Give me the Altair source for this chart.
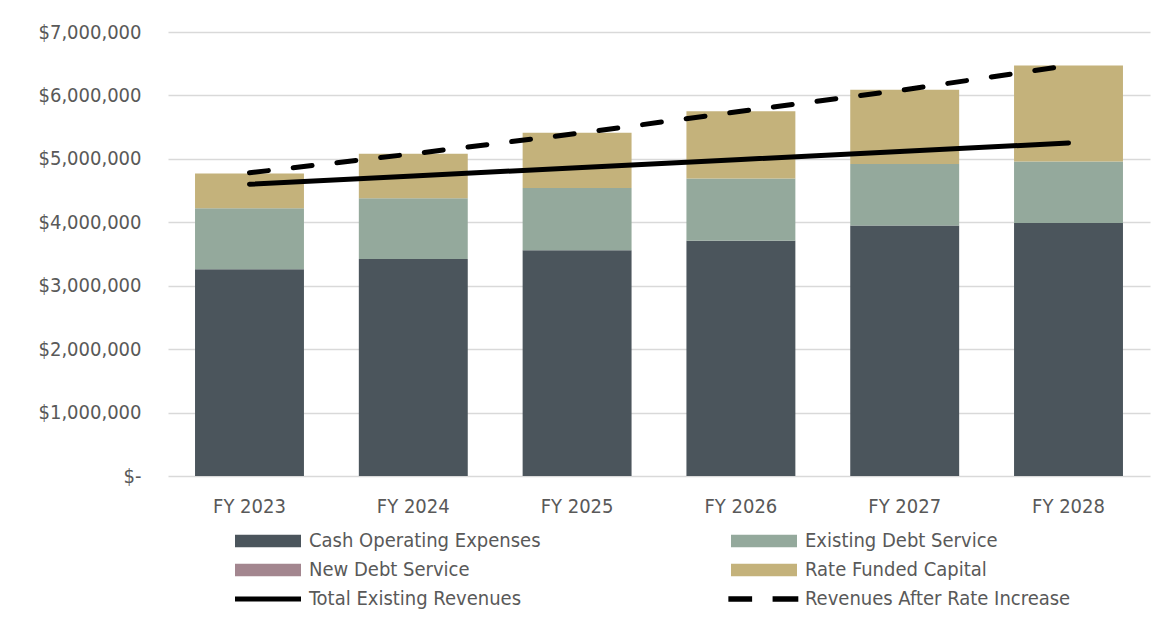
import altair as alt
import pandas as pd

# ---- data ----
years = ["FY 2023", "FY 2024", "FY 2025", "FY 2026", "FY 2027", "FY 2028"]
cash_operating = [3260000, 3420000, 3560000, 3710000, 3950000, 3990000]
existing_debt = [960000, 960000, 980000, 980000, 970000, 970000]
new_debt = [0, 0, 0, 0, 0, 0]
rate_funded_capital = [550000, 700000, 870000, 1060000, 1170000, 1510000]
total_existing_revenues = [4600000, 4730000, 4860000, 4990000, 5120000, 5250000]
revenues_after_increase = [4780000, 5080000, 5400000, 5750000, 6090000, 6470000]

bar_series = ["Cash Operating Expenses", "Existing Debt Service",
              "New Debt Service", "Rate Funded Capital"]
bar_values = [cash_operating, existing_debt, new_debt, rate_funded_capital]
line_series = ["Total Existing Revenues", "Revenues After Rate Increase"]

# legend entries in reading order (2 columns)
legend_names = ["Cash Operating Expenses", "Existing Debt Service",
                "New Debt Service", "Rate Funded Capital",
                "Total Existing Revenues", "Revenues After Rate Increase"]
legend_kinds = ["box", "box", "box", "box", "solid", "dash"]

all_names = bar_series + line_series
all_colors = ["#4B555C", "#94A99C", "#A3868F", "#C4B27B", "#000000", "#000000"]

FONT = "DejaVu Sans Condensed, Liberation Sans Narrow, Liberation Sans, sans-serif"
GRAY = "#595959"
FS = 20

# ---- tables ----
rows = []
for k, (s, vals) in enumerate(zip(bar_series, bar_values)):
    for y, v in zip(years, vals):
        rows.append({"year": y, "series": s, "value": v, "ord": k})
df_bars = pd.DataFrame(rows)

df_total = pd.DataFrame({"year": years, "value": total_existing_revenues,
                         "series": line_series[0]})
df_after = pd.DataFrame({"year": years, "value": revenues_after_increase,
                         "series": line_series[1]})

df_leg = pd.DataFrame({
    "name": legend_names,
    "kind": legend_kinds,
    "col": [i % 2 for i in range(len(legend_names))],
    "row": [i // 2 for i in range(len(legend_names))],
})

color_scale = alt.Scale(domain=all_names, range=all_colors)

x_enc = alt.X("year:N", sort=years,
              scale=alt.Scale(paddingInner=0.335, paddingOuter=0.165),
              axis=alt.Axis(title=None, labelAngle=0, domain=False, ticks=False,
                            labelPadding=20, labelFontSize=FS, labelColor=GRAY,
                            labelFont=FONT, grid=False))
y_scale = alt.Scale(domain=[0, 7000000], nice=False)
y_axis = alt.Axis(title=None, values=[i * 1000000 for i in range(8)],
                  labelExpr="datum.value == 0 ? '$-' : '$' + format(datum.value, ',')",
                  domain=False, ticks=False, labelPadding=27, labelFontSize=FS,
                  labelColor=GRAY, labelFont=FONT, grid=True,
                  gridColor="#D9D9D9", gridWidth=1.5)

bars = alt.Chart(df_bars).mark_bar().encode(
    x=x_enc,
    y=alt.Y("value:Q", stack="zero", scale=y_scale, axis=y_axis),
    color=alt.Color("series:N", scale=color_scale, legend=None),
    order=alt.Order("ord:Q", sort="ascending"),
)

solid = alt.Chart(df_total).mark_line(strokeWidth=5, strokeCap="round").encode(
    x=alt.X("year:N", sort=years),
    y=alt.Y("value:Q", scale=y_scale),
    color=alt.Color("series:N", scale=color_scale, legend=None),
)

dashed = alt.Chart(df_after).mark_line(strokeWidth=5, strokeCap="round",
                                        strokeDash=[19, 25]).encode(
    x=alt.X("year:N", sort=years),
    y=alt.Y("value:Q", scale=y_scale),
    color=alt.Color("series:N", scale=color_scale, legend=None),
)

main = alt.layer(bars, solid, dashed)

# ---- legend drawn from the legend table ----
shape_scale = alt.Scale(
    domain=["box", "solid", "dash"],
    range=["M-1,-0.19H1V0.19H-1Z",
           "M-1,-0.076H1V0.076H-1Z",
           "M-1.08,-0.08H-0.36V0.08H-1.08Z M0.26,-0.08H1.04V0.08H0.26Z"],
)
leg_x = alt.X("col:Q", scale=alt.Scale(domain=[0, 1], range=[100, 596]), axis=None)
leg_y = alt.Y("row:Q", scale=alt.Scale(domain=[0, 2], range=[509, 567]), axis=None)

leg_sym = alt.Chart(df_leg).mark_point(filled=True, size=4356, opacity=1,
                                        strokeWidth=0).encode(
    x=leg_x, y=leg_y,
    shape=alt.Shape("kind:N", scale=shape_scale, legend=None),
    color=alt.Color("name:N", scale=color_scale, legend=None),
)
leg_txt = alt.Chart(df_leg).mark_text(align="left", baseline="middle", dx=41,
                                      fontSize=FS, font=FONT, color=GRAY).encode(
    x=leg_x, y=leg_y, text="name:N",
)
legend = alt.layer(leg_sym, leg_txt)

chart = alt.layer(main, legend).resolve_scale(
    x="independent", y="independent"
).properties(
    width=982, height=444,
    padding={"left": 38, "top": 22, "right": 5, "bottom": 5},
).configure_view(stroke=None)

chart.save("out.html", embed_options={"renderer": "svg", "actions": False})
